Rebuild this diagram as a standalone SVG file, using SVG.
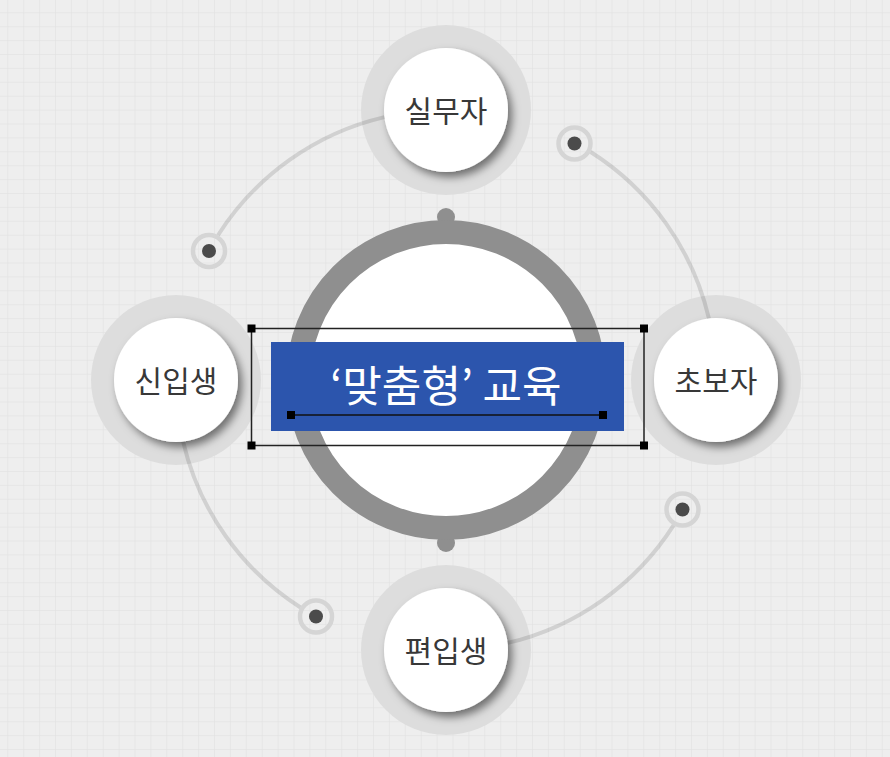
<svg xmlns="http://www.w3.org/2000/svg" width="890" height="757" viewBox="0 0 890 757">
  <defs>
    <pattern id="grid" x="7.3" y="12.3" width="15.9" height="13.9" patternUnits="userSpaceOnUse">
      <rect width="15.9" height="13.9" fill="#eeeeee"/>
      <line x1="0" y1="0" x2="15.9" y2="0" stroke="#e2e2e2" stroke-width="1.2"/>
      <line x1="0" y1="0" x2="0" y2="13.9" stroke="#e2e2e2" stroke-width="1.2"/>
    </pattern>
    <filter id="shadow" x="-30%" y="-30%" width="170%" height="170%">
      <feDropShadow dx="4" dy="5" stdDeviation="4" flood-color="#000" flood-opacity="0.5"/>
    </filter>
    <style>
      .halo { fill: #dddddd; }
      .disc { fill: #ffffff; filter: url(#shadow); }
      .label { font-family: "Noto Sans CJK KR", "Noto Sans", sans-serif; font-size: 30px; fill: #383838; text-anchor: middle; }
      .arc { fill: none; stroke: #000; stroke-opacity: 0.12; stroke-width: 4; }
      .ring { fill: none; stroke: #d5d5d5; stroke-width: 4.5; }
      .dot { fill: #4b4b4b; }
      .handle { fill: #000; }
    </style>
  </defs>

  <rect width="890" height="757" fill="url(#grid)"/>

  <!-- center hub -->
  <g id="hub">
    <circle cx="446" cy="217" r="9" fill="#8f8f8f"/>
    <circle cx="446" cy="543" r="9" fill="#8f8f8f"/>
    <circle cx="446" cy="380" r="148" fill="#ffffff" stroke="#8f8f8f" stroke-width="24"/>
  </g>

  <!-- nodes -->
  <g id="node-top">
    <circle class="halo" cx="446" cy="110" r="85"/>
    <circle class="disc" cx="446" cy="110" r="62"/>
    <text class="label" x="446" y="122">실무자</text>
  </g>
  <g id="node-right">
    <circle class="halo" cx="716" cy="380" r="85"/>
    <circle class="disc" cx="716" cy="380" r="62"/>
    <text class="label" x="716" y="392">초보자</text>
  </g>
  <g id="node-bottom">
    <circle class="halo" cx="446" cy="650" r="85"/>
    <circle class="disc" cx="446" cy="650" r="62"/>
    <text class="label" x="446" y="662">편입생</text>
  </g>
  <g id="node-left">
    <circle class="halo" cx="176" cy="380" r="85"/>
    <circle class="disc" cx="176" cy="380" r="62"/>
    <text class="label" x="176" y="392">신입생</text>
  </g>

  <!-- connectors -->
  <g id="connectors">
    <path class="arc" d="M218.0,235.3 A270,270 0 0 1 384.4,117.1"/>
    <path class="arc" d="M590.3,151.8 A270,270 0 0 1 708.9,318.4"/>
    <path class="arc" d="M673.7,525.1 A270,270 0 0 1 507.6,642.9"/>
    <path class="arc" d="M300.5,607.5 A270,270 0 0 1 183.1,441.6"/>
  </g>

  <g id="dot-tl">
    <circle class="ring" cx="209" cy="251" r="16"/>
    <circle class="dot" cx="209" cy="251" r="7"/>
  </g>
  <g id="dot-tr">
    <circle class="ring" cx="574.5" cy="143.5" r="16"/>
    <circle class="dot" cx="574.5" cy="143.5" r="7"/>
  </g>
  <g id="dot-br">
    <circle class="ring" cx="682.5" cy="509.5" r="16"/>
    <circle class="dot" cx="682.5" cy="509.5" r="7"/>
  </g>
  <g id="dot-bl">
    <circle class="ring" cx="316" cy="616.5" r="16"/>
    <circle class="dot" cx="316" cy="616.5" r="7"/>
  </g>

  <!-- title -->
  <g id="title">
    <rect x="271" y="342" width="353" height="89" fill="#2c55ad"/>
    <text x="446" y="402" font-family="Noto Sans CJK KR, Noto Sans, sans-serif" font-size="43" fill="#ffffff" text-anchor="middle">‘맞춤형’ 교육</text>
    <line x1="291" y1="415" x2="603" y2="415" stroke="#111" stroke-width="1.5"/>
    <rect class="handle" x="287" y="411" width="8" height="8"/>
    <rect class="handle" x="599" y="411" width="8" height="8"/>
  </g>

  <!-- selection frame -->
  <g id="selection">
    <rect x="251.5" y="328.5" width="392.5" height="117" fill="none" stroke="#222" stroke-width="1.5"/>
    <rect class="handle" x="247.5" y="324.5" width="8" height="8"/>
    <rect class="handle" x="640" y="324.5" width="8" height="8"/>
    <rect class="handle" x="247.5" y="441.5" width="8" height="8"/>
    <rect class="handle" x="640" y="441.5" width="8" height="8"/>
  </g>
</svg>
